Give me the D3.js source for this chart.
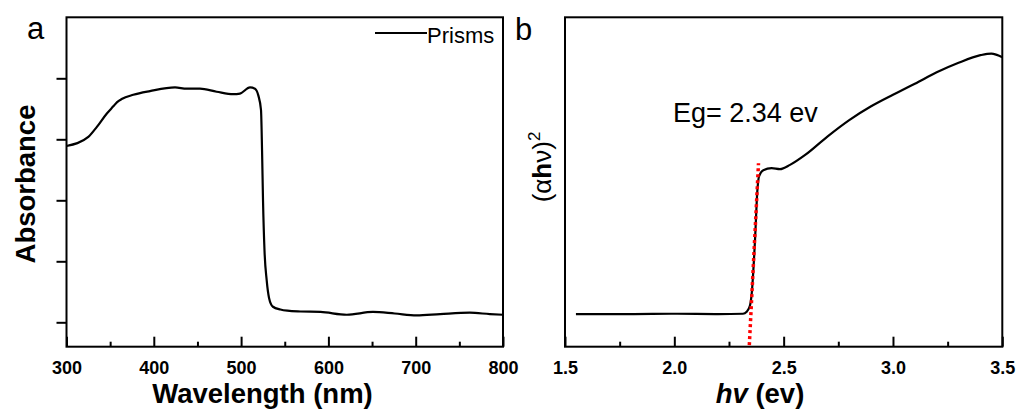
<!DOCTYPE html>
<html>
<head>
<meta charset="utf-8">
<script src="https://cdn.jsdelivr.net/npm/d3@7"></script>
<style>
  body { margin: 0; background: #fff; }
  text { font-family: "Liberation Sans", Arial, sans-serif; }
</style>
</head>
<body>
<svg id="chart" width="1019" height="414"></svg>
<script>
// panel a: absorbance spectrum (wavelength nm, a.u.)
const wavelength = [300, 325, 334.6, 346, 353.6, 358, 363.2, 376.5, 395.6, 424.3, 437.7, 452.9, 472, 491, 498.7, 510.2, 515.9, 519.7, 522.8, 524, 525.1, 526.8, 529.3, 532, 536.5, 545, 553, 568, 591, 621, 651, 676, 701, 728, 762, 785, 800];
const absorbance = [2.89, 3.04, 3.20, 3.42, 3.54, 3.61, 3.66, 3.73, 3.79, 3.85, 3.83, 3.83, 3.78, 3.74, 3.75, 3.85, 3.83, 3.72, 3.48, 2.82, 2.00, 1.18, 0.69, 0.40, 0.255, 0.21, 0.19, 0.177, 0.17, 0.124, 0.17, 0.144, 0.114, 0.135, 0.157, 0.135, 0.124];

// panel b: Tauc plot (hv eV, (ahv)^2 a.u.)
const energy = [1.55, 1.80, 2.00, 2.20, 2.314, 2.331, 2.346, 2.354, 2.369, 2.380, 2.387, 2.407, 2.445, 2.483, 2.529, 2.60, 2.70, 2.80, 2.90, 3.00, 3.10, 3.20, 3.30, 3.40, 3.45, 3.475, 3.50];
const tauc = [9.9, 9.9, 10.0, 9.9, 10.0, 10.6, 12.5, 16.2, 32.4, 47.6, 51.6, 53.6, 54.2, 53.9, 55.2, 58.3, 63.8, 68.8, 73.0, 76.5, 79.8, 83.3, 86.2, 88.5, 89.0, 88.6, 87.9];

// linear fit for band gap
const fitX = [2.343, 2.385];
const fitY = [0.5, 55.7];

const xTicksA = [300, 400, 500, 600, 700, 800];
const xTicksB = [1.5, 2.0, 2.5, 3.0, 3.5];

const svg = d3.select("#chart");
const plotTop = 17.3, plotBottom = 346.7;

function frame(x0, x1) {
  svg.append("rect")
    .attr("x", x0).attr("y", plotTop)
    .attr("width", x1 - x0).attr("height", plotBottom - plotTop)
    .attr("fill", "none").attr("stroke", "#000").attr("stroke-width", 2);
}

function xAxis(x, major, minor, fmt) {
  const g = svg.append("g").attr("transform", `translate(0,${plotBottom})`);
  g.append("g")
    .call(d3.axisBottom(x).tickValues(minor).tickSize(-5).tickFormat(""))
    .call(s => s.select(".domain").remove());
  g.append("g")
    .call(d3.axisBottom(x).tickValues(major).tickSize(-10).tickPadding(15).tickFormat(fmt))
    .call(s => s.select(".domain").remove());
  g.selectAll("line").attr("stroke-width", 2);
  g.selectAll("text")
    .attr("font-size", 18).attr("font-weight", "bold")
    .attr("font-family", "Liberation Sans, Arial, sans-serif");
}

// ---- panel a ----
const xa = d3.scaleLinear().domain([300, 800]).range([66.5, 503]);
const ya = d3.scaleLinear().domain([-0.4, 5]).range([plotBottom, plotTop]);

svg.append("g")
  .attr("transform", "translate(66.5,0)")
  .call(d3.axisLeft(ya).tickValues([0, 1, 2, 3, 4]).tickSize(10).tickFormat(""))
  .call(s => s.select(".domain").remove())
  .selectAll("line").attr("stroke-width", 2);

xAxis(xa, xTicksA, d3.range(350, 800, 100), d3.format("d"));
frame(66.5, 503);

svg.append("path")
  .datum(d3.zip(wavelength, absorbance))
  .attr("fill", "none").attr("stroke", "#000").attr("stroke-width", 2.2)
  .attr("stroke-linejoin", "round")
  .attr("d", d3.line().x(d => xa(d[0])).y(d => ya(d[1])).curve(d3.curveMonotoneX));

// legend
svg.append("line").attr("x1", 375).attr("x2", 427).attr("y1", 33).attr("y2", 33)
  .attr("stroke", "#000").attr("stroke-width", 2);
svg.append("text").attr("x", 427).attr("y", 43).attr("font-size", 22).text("Prisms");

svg.append("text").attr("x", 27).attr("y", 39).attr("font-size", 31).text("a");
svg.append("text").attr("x", 262.5).attr("y", 403).attr("text-anchor", "middle")
  .attr("font-size", 27.5).attr("font-weight", "bold").text("Wavelength (nm)");
svg.append("text").attr("transform", "translate(35,184) rotate(-90)")
  .attr("text-anchor", "middle").attr("font-size", 27.5).attr("font-weight", "bold")
  .text("Absorbance");

// ---- panel b ----
const xb = d3.scaleLinear().domain([1.5, 3.5]).range([565, 1002.3]);
const yb = d3.scaleLinear().domain([0, 100]).range([plotBottom, plotTop]);

xAxis(xb, xTicksB, d3.range(1.75, 3.5, 0.5), d3.format(".1f"));
frame(565, 1002.3);

svg.append("path")
  .datum(d3.zip(energy, tauc))
  .attr("fill", "none").attr("stroke", "#000").attr("stroke-width", 2.2)
  .attr("stroke-linejoin", "round")
  .attr("d", d3.line().x(d => xb(d[0])).y(d => yb(d[1])).curve(d3.curveMonotoneX));

svg.append("path")
  .datum(d3.zip(fitX, fitY))
  .attr("fill", "none").attr("stroke", "#ff0000").attr("stroke-width", 3.5)
  .attr("stroke-dasharray", "3,3")
  .attr("d", d3.line().x(d => xb(d[0])).y(d => yb(d[1])));

svg.append("text").attr("x", 515).attr("y", 40).attr("font-size", 31).text("b");
svg.append("text").attr("x", 673).attr("y", 121.5).attr("font-size", 27).text("Eg= 2.34 ev");

const xl = svg.append("text").attr("x", 760).attr("y", 403).attr("text-anchor", "middle")
  .attr("font-size", 27.5).attr("font-weight", "bold");
xl.append("tspan").attr("font-style", "italic").text("hv");
xl.append("tspan").text(" (ev)");

const yl = svg.append("text").attr("transform", "translate(551,167) rotate(-90)")
  .attr("text-anchor", "middle").attr("font-size", 26);
yl.append("tspan").text("(\u03b1");
yl.append("tspan").attr("font-weight", "bold").text("h");
yl.append("tspan").text("\u03bd)");
yl.append("tspan").attr("font-size", 17).attr("dy", -11).text("2");
</script>
</body>
</html>
